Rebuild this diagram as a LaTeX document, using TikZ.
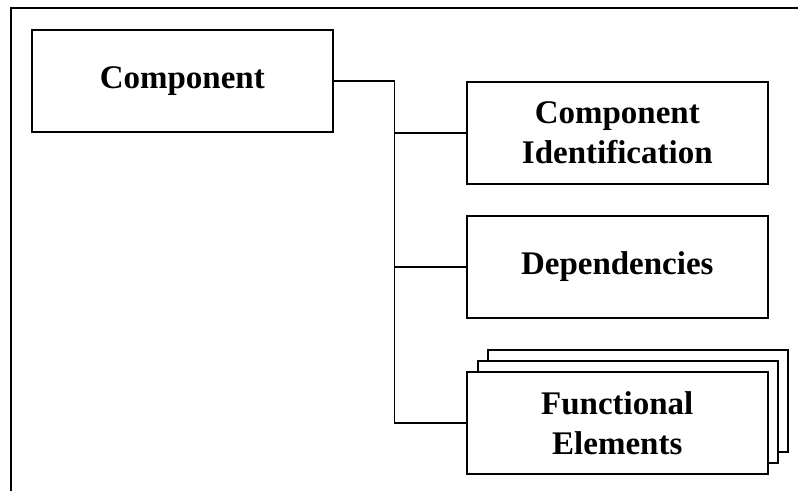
\documentclass[tikz,border=0pt]{standalone}
\usepackage{fontspec}
\setmainfont{Liberation Serif}
\begin{document}
\begin{tikzpicture}[x=1pt,y=-1pt,
  box/.style={draw=black,line width=1.6pt,fill=white,minimum width=301pt,minimum height=102pt,anchor=north west,
    font=\fontsize{33}{40}\selectfont\bfseries,align=center,inner sep=0pt},
  link/.style={draw=black,line width=1.6pt}]
\useasboundingbox (0,0) rectangle (798,491);
\fill[white] (0,0) rectangle (798,491);
\draw[line width=2pt] (11,491) -- (11,8) -- (798,8);
\node[box] (comp) at (31,29) {Component};
\node[box] (cid) at (466,81) {Component\\Identification};
\node[box] (dep) at (466,215) {Dependencies};
\node[box,minimum width=300pt] (fe3) at (487,349) {};
\node[box,minimum width=300pt] (fe2) at (477,360) {};
\node[box] (fe) at (466,371) {Functional\\Elements};
\draw[link] (comp.east) -- ++(61,0) coordinate (j1) -- (j1 |- fe.west) -- (fe.west);
\draw[link] (j1 |- cid.west) -- (cid.west);
\draw[link] (j1 |- dep.west) -- (dep.west);
\end{tikzpicture}
\end{document}
